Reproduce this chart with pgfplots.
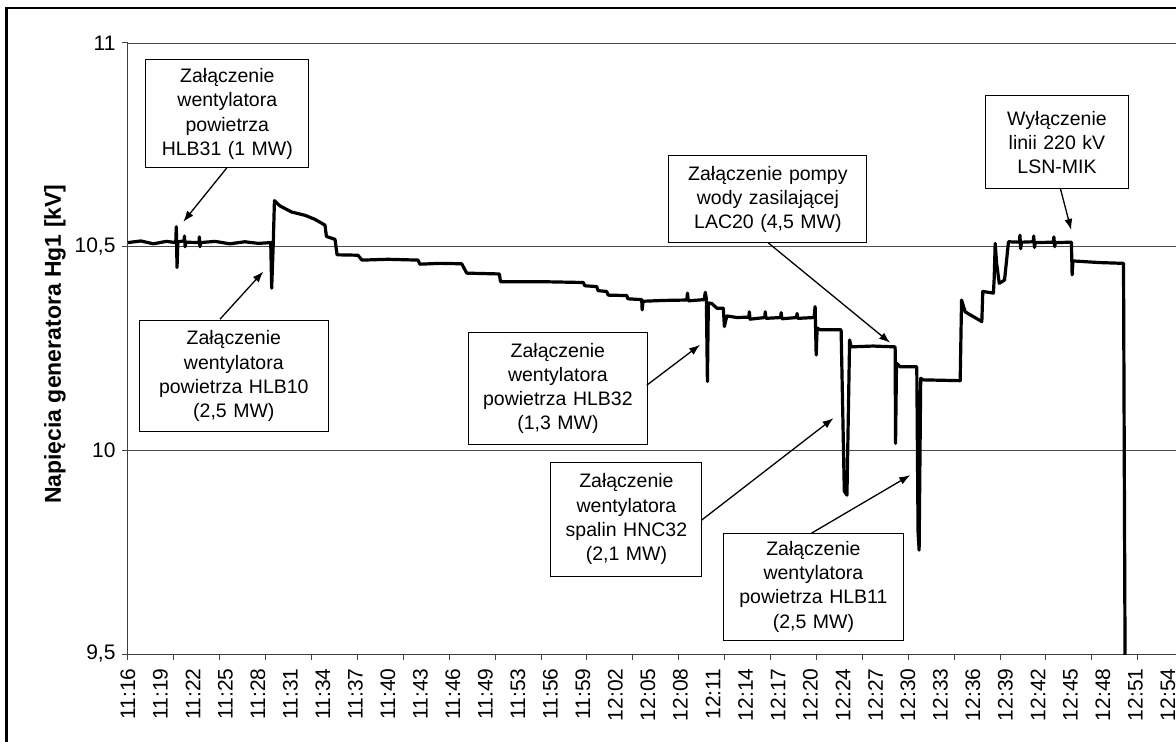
\documentclass[border=0pt]{standalone}
\usepackage{fontspec}
\setmainfont{Liberation Sans}
\usepackage{pgfplots}
\pgfplotsset{compat=1.18}
\usetikzlibrary{arrows.meta,calc}

\begin{document}
\begin{tikzpicture}[x=1pt,y=1pt,
  note/.style={draw=black, line width=1.1pt, fill=white, align=center, inner sep=0pt,
    font=\fontsize{19.5}{24.3}\selectfont},
  arr/.style={line width=1.3pt, -{Latex[length=11pt,width=8pt]}}]
\begin{axis}[
  width=1061.2pt, height=611pt, scale only axis,
  xmin=0, xmax=100, ymin=9.5, ymax=11,
  axis x line*=bottom, axis y line*=left,
  axis line style={black!75, line width=1pt, -},
  ytick={9.5,10,10.5,11},
  yticklabels={{9,5},{10},{10,5},{11}},
  ymajorgrids, grid style={black!70, line width=0.9pt},
  tick style={black!75, line width=1pt},
  tick align=outside, major tick length=6pt,
  tick label style={font=\fontsize{21}{24}\selectfont},
  xtick={0,4.3253,...,99}, xticklabels={},
  extra x ticks={0,3.0625,...,98.01},
  extra x tick labels={11:16,11:19,11:22,11:25,11:28,11:31,11:34,11:37,11:40,11:43,11:46,11:49,11:53,11:56,11:59,12:02,12:05,12:08,12:11,12:14,12:17,12:20,12:24,12:27,12:30,12:33,12:36,12:39,12:42,12:45,12:48,12:51,12:54},
  extra x tick style={major tick length=0pt, xticklabel shift=11pt},
  xticklabel style={rotate=90, anchor=east},
  yticklabel style={xshift=-3pt},
  ylabel={Napięcia generatora Hg1 [kV]},
  every axis y label/.style={at={(axis description cs:-0.0688,0.507)}, rotate=90, anchor=center,
    font=\fontsize{23}{28}\selectfont\bfseries},
]
\coordinate (O) at (rel axis cs:0,0);
\addplot[black, line width=3.2pt, line join=round] coordinates {
(0.00,10.510)(1.2,10.514)(2.4,10.507)(3.6,10.513)(4.50,10.510)(4.55,10.549)(4.62,10.449)(4.70,10.512)
(5.28,10.514)(5.32,10.526)(5.38,10.500)(5.45,10.511)(6.69,10.510)(6.72,10.524)(6.78,10.500)(6.85,10.510)
(8.2,10.513)(9.6,10.507)(11.0,10.512)(12.3,10.508)(13.45,10.510)(13.54,10.398)(13.68,10.500)(13.80,10.613)
(14.32,10.600)(15.43,10.585)(16.68,10.577)(17.62,10.567)(18.56,10.553)(18.70,10.525)(19.51,10.518)(19.70,10.480)
(21.67,10.479)(22.05,10.467)(24.5,10.469)(27.33,10.467)(27.50,10.457)(29.40,10.459)(31.45,10.458)(31.92,10.435)
(35.00,10.433)(35.10,10.414)(39.0,10.414)(42.91,10.412)(43.05,10.404)(44.17,10.402)(44.30,10.392)(45.11,10.390)
(45.25,10.381)(47.00,10.380)(47.10,10.372)(48.41,10.370)(48.45,10.345)(48.54,10.366)(50.5,10.368)(52.66,10.369)
(52.72,10.386)(52.80,10.367)(54.30,10.370)(54.40,10.388)(54.50,10.372)(54.60,10.169)(54.69,10.362)(55.04,10.360)
(55.48,10.349)(56.10,10.349)(56.20,10.304)(56.43,10.330)(57.37,10.326)(58.50,10.327)(58.55,10.340)(58.62,10.322)
(60.00,10.326)(60.05,10.340)(60.12,10.324)(61.50,10.326)(61.55,10.338)(61.62,10.323)(63.0,10.326)(63.05,10.336)
(63.1,10.324)(64.65,10.326)(64.75,10.353)(64.85,10.234)(64.94,10.300)(65.22,10.296)(67.20,10.296)(67.50,9.900)
(67.75,9.890)(68.00,10.271)(68.14,10.254)(70.2,10.256)(72.29,10.254)(72.33,10.017)(72.42,10.214)(72.76,10.205)
(74.33,10.205)(74.45,9.800)(74.55,9.755)(74.70,10.177)(74.90,10.173)(76.7,10.172)(78.42,10.171)(78.55,10.369)
(78.89,10.340)(80.46,10.316)(80.55,10.390)(81.55,10.386)(81.62,10.420)(81.72,10.508)(81.85,10.460)(82.10,10.410)
(82.60,10.418)(82.97,10.512)(84.0,10.511)(84.05,10.528)(84.12,10.495)(84.2,10.511)(85.3,10.512)(85.35,10.526)
(85.42,10.498)(85.5,10.510)(87.2,10.511)(87.25,10.524)(87.32,10.500)(87.4,10.510)(88.90,10.511)(88.97,10.431)
(89.05,10.465)(91.5,10.461)(93.81,10.459)(93.97,9.40)
};
% annotations
\node[note, text width=163pt, minimum height=108pt] at (axis cs:9.36,10.826)
  {Załączenie\\wentylatora\\powietrza\\HLB31 (1 MW)};
\draw[arr] (axis cs:9.30,10.693) -- (axis cs:5.21,10.561);
\node[note, text width=189pt, minimum height=111pt] at (axis cs:9.97,10.182)
  {Załączenie\\wentylatora\\powietrza HLB10\\(2,5 MW)};
\draw[arr] (axis cs:8.67,10.322) -- (axis cs:12.75,10.439);
\node[note, text width=179pt, minimum height=112pt] at (axis cs:40.51,10.152)
  {Załączenie\\wentylatora\\powietrza HLB32\\(1,3 MW)};
\draw[arr] (axis cs:48.89,10.160) -- (axis cs:53.91,10.259);
\node[note, text width=151pt, minimum height=114pt] at (axis cs:46.97,9.831)
  {Załączenie\\wentylatora\\spalin HNC32\\(2,1 MW)};
\draw[arr] (axis cs:54.07,9.829) -- (axis cs:66.48,10.079);
\node[note, text width=180pt, minimum height=107pt] at (axis cs:64.59,9.665)
  {Załączenie\\wentylatora\\powietrza HLB11\\(2,5 MW)};
\draw[arr] (axis cs:64.37,9.796) -- (axis cs:73.71,9.939);
\node[note, text width=198pt, minimum height=87pt] at (axis cs:60.30,10.616)
  {Załączenie pompy\\wody zasilającej\\LAC20 (4,5 MW)};
\draw[arr] (axis cs:60.35,10.509) -- (axis cs:71.82,10.264);
\node[note, text width=143pt, minimum height=93pt] at (axis cs:87.54,10.756)
  {Wyłączenie\\linii 220 kV\\LSN-MIK};
\draw[arr] (axis cs:87.87,10.642) -- (axis cs:88.88,10.541);
\end{axis}
% outer frame of the figure, and the page cut to the reference's window
\draw[line width=2.4pt] ($(O)+(-121.5,-120)$) -- ($(O)+(-121.5,646)$) -- ($(O)+(1100,646)$);
\pgfresetboundingbox
\path[use as bounding box] ($(O)+(-128,-88)$) rectangle ($(O)+(1048,654)$);
\end{tikzpicture}
\end{document}
